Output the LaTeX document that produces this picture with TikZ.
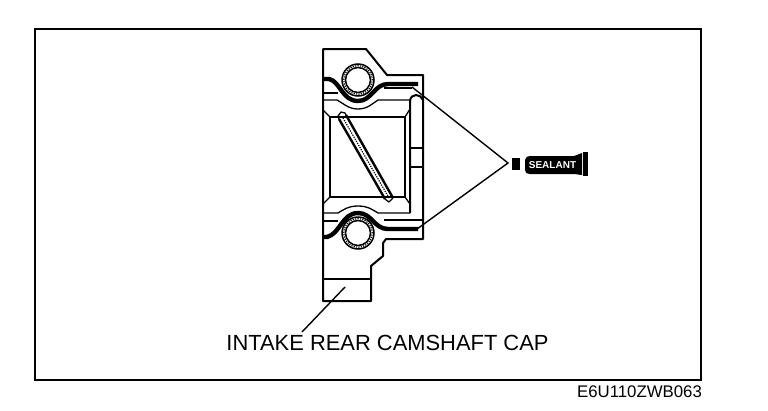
\documentclass[tikz,border=0pt]{standalone}
\usepackage{fontspec}
\setmainfont{Liberation Sans}
\tikzset{
  thin line/.style={line width=1.3pt,line join=round},
  med line/.style={line width=2pt,line join=round},
  seal/.style={line width=4.4pt,line cap=butt,line join=round},
  dots/.style={line width=1.2pt,dash pattern=on 1.2pt off 1.2pt},
  lbl/.style={inner sep=0pt,anchor=center,text=black},
}
\begin{document}
\begin{tikzpicture}[x=1pt,y=-1pt]
\useasboundingbox (0,0) rectangle (768,410);
\fill[white] (0,0) rectangle (768,410);
\draw[line width=1.6pt] (35,29) rectangle (701,380);

% outer casting
\draw[med line] (323,49) -- (366,49) -- (387,75) -- (423,75) -- (423,239) -- (386,239) -- (383,243) -- (383,256) -- (371,266) -- (371,301) -- (323,301) -- cycle;
\draw[thin line] (323,279) -- (371,279);

% top grooves
\draw[thin line] (323,93) -- (338,93);
\draw[thin line] (384,88) -- (412,88);
\draw[thin line] (323,100) -- (337,100) .. controls (343,103) and (348,109) .. (358,109) .. controls (368,109) and (373,103) .. (378,100) -- (410,100);
% bottom grooves
\draw[thin line] (323,221) -- (338,221);
\draw[thin line] (384,220) -- (423,220);
\draw[thin line] (323,213) -- (338,213) .. controls (343,210) and (348,206) .. (358,206) .. controls (368,206) and (373,210) .. (378,213) -- (410,213);

% sealant beads
\draw[seal] (323,79) -- (329,79) .. controls (340,81) and (342,101) .. (358,101) .. controls (372,101) and (374,84) .. (388,84) -- (418,84);
\draw[seal] (323,237) -- (327,237) .. controls (340,234) and (342,213) .. (358,213) .. controls (372,213) and (374,229) .. (388,229) -- (418,229);

% bearing bores
\node[circle,draw,line width=1.5pt,minimum size=32pt,inner sep=0pt] (boreT) at (358,80) {};
\node[circle,draw,line width=1.5pt,minimum size=25pt,inner sep=0pt] (boreTi) at (358,80) {};
\draw[dots] (358,80) circle[radius=14.2pt];
\node[circle,draw,line width=1.5pt,minimum size=32pt,inner sep=0pt] (boreB) at (358,233) {};
\node[circle,draw,line width=1.5pt,minimum size=25pt,inner sep=0pt] (boreBi) at (358,233) {};
\draw[dots] (358,233) circle[radius=14.2pt];

% right rounded rail
\draw[med line] (410,213) -- (410,102) .. controls (410,97) and (413,95) .. (416,95) .. controls (419,95) and (422,97) .. (423,100);
\draw[thin line] (410,148) -- (423,148);
\draw[thin line] (410,167) -- (423,167);

% inner pocket
\draw[med line] (330,117) -- (405,117) -- (405,197) -- (330,197) -- cycle;
\draw[thin line] (323,110) -- (330,117);
\draw[thin line] (405,117) -- (410,109);
\draw[thin line] (323,204) -- (330,197);
\draw[thin line] (405,197) -- (410,204);

% diagonal slot
\draw[line width=2.4pt] (339,119) -- (385,199);
\draw[line width=2.4pt] (346,115) -- (393,198);
\draw[thin line] (339,119) -- (338,116) -- (341,112) -- (345,113) -- (346,115);
\draw[thin line] (385,199) -- (389,202) -- (393,198);
\draw[dots] (343,118) -- (389,198);

% sealant tube
\fill (512,158) rectangle (520,170);
\fill (525,160) .. controls (525,157) and (528,156) .. (530,156) -- (574,156) -- (582,153) -- (582,175) -- (574,174) -- (530,174) .. controls (527,174) and (525,173) .. (525,170) -- cycle;
\fill (583,152) rectangle (588,176);
\node[lbl,text=white,font=\bfseries\fontsize{10}{11}\selectfont] (sealant) at (552.5,165) {SEALANT};
\coordinate (apex) at (508,163);
\coordinate (beadT) at (412,87);
\coordinate (beadB) at (417,229);
\draw[line width=1.4pt,line join=miter] (beadT) -- (apex) -- (beadB);

% labels
\node[lbl,font=\fontsize{21.9}{23}\selectfont] (cap) at (387.5,343) {INTAKE REAR CAMSHAFT CAP};
\node[lbl,font=\fontsize{16.8}{18}\selectfont] (code) at (639.5,392) {E6U110ZWB063};
\coordinate (capEnd) at (345,287);
\coordinate (capStart) at (302,332);
\draw[line width=1.4pt] (capStart) -- (capEnd);
\end{tikzpicture}
\end{document}
